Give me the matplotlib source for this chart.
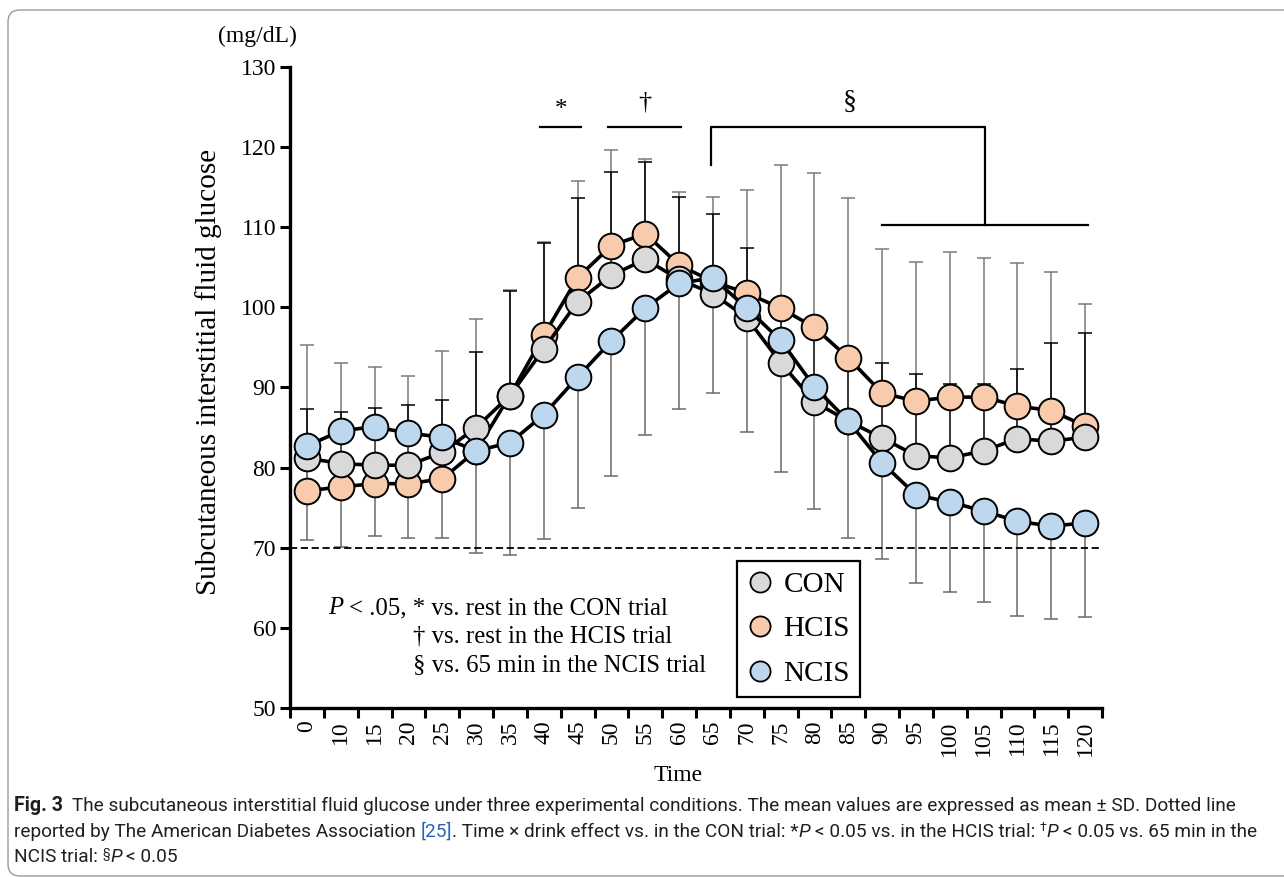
import matplotlib
matplotlib.use("Agg")
import matplotlib.pyplot as plt
from matplotlib.lines import Line2D
from matplotlib.patches import FancyBboxPatch
from matplotlib.transforms import IdentityTransform
import numpy as np

# data (mg/dL)
time_labels = [0, 10, 15, 20, 25, 30, 35, 40, 45, 50, 55, 60,
               65, 70, 75, 80, 85, 90, 95, 100, 105, 110, 115, 120]
con = [81.2, 80.5, 80.3, 80.3, 81.9, 85.0, 89.0, 94.8, 100.7, 104.0, 106.0, 103.5,
       101.7, 98.7, 93.1, 88.2, 85.8, 83.7, 81.5, 81.2, 82.1, 83.6, 83.3, 83.8]
hcis = [77.1, 77.6, 78.0, 78.0, 78.6, 82.1, 89.0, 96.5, 103.7, 107.7, 109.2, 105.3,
        103.2, 101.8, 99.9, 97.5, 93.7, 89.3, 88.3, 88.8, 88.8, 87.7, 87.1, 85.2]
ncis = [82.7, 84.6, 85.1, 84.3, 83.8, 82.1, 83.1, 86.6, 91.3, 95.8, 99.9, 103.0,
        103.7, 99.9, 95.9, 90.1, 85.8, 80.6, 76.6, 75.7, 74.6, 73.3, 72.7, 73.1]
# error bar ends (upper for CON/HCIS, lower for NCIS)
con_top = [87.3, 87.0, 87.5, 87.8, 88.5, 94.4, 102.0, 108.0, 113.6, 116.9, 118.2, 113.8,
           111.7, 107.4, 101.2, 96.3, 93.5, 93.1, 91.7, 90.4, 90.4, 92.3, 95.5, 96.8]
hcis_top = [95.3, 93.1, 92.5, 91.4, 94.6, 98.5, 102.2, 108.2, 115.8, 119.6, 118.5, 114.4,
            113.8, 114.6, 117.8, 116.8, 113.7, 107.3, 105.7, 106.9, 106.2, 105.6, 104.4, 100.4]
ncis_bottom = [71.0, 70.1, 71.5, 71.2, 71.2, 69.3, 69.1, 71.1, 75.0, 78.9, 84.1, 87.3,
               89.3, 84.4, 79.5, 74.8, 71.2, 68.6, 65.6, 64.5, 63.2, 61.5, 61.1, 61.3]
threshold = 70

names = ["CON", "HCIS", "NCIS"]
colors = ["#D9D9D9", "#F8CBAD", "#BDD7EE"]

plt.rcParams['font.family'] = ['Liberation Serif', 'DejaVu Serif']

W, H = 1284, 877
fig = plt.figure(figsize=(W / 100, H / 100), dpi=100)
ax = fig.add_axes([290 / W, 1 - 708 / H, (1102 - 290) / W, (708 - 67) / H])

x = np.arange(len(time_labels))
con_a, hcis_a, ncis_a = np.array(con), np.array(hcis), np.array(ncis)
zero = np.zeros(len(x))

# error bars behind the markers
ax.errorbar(x, hcis_a, yerr=[zero, np.array(hcis_top) - hcis_a], fmt='none',
            ecolor='#7a7a7a', elinewidth=1.1, capsize=5, capthick=1.1, zorder=1)
ax.errorbar(x, con_a, yerr=[zero, np.array(con_top) - con_a], fmt='none',
            ecolor='black', elinewidth=1.1, capsize=5, capthick=1.1, zorder=1)
ax.errorbar(x, ncis_a, yerr=[ncis_a - np.array(ncis_bottom), zero], fmt='none',
            ecolor='#6a6a6a', elinewidth=1.1, capsize=5, capthick=1.1, zorder=1)

ax.axhline(threshold, color='black', lw=1.3, ls=(0, (4, 2)), zorder=1)

series = [(hcis, colors[1], 2), (con, colors[0], 3), (ncis, colors[2], 4)]
for vals, c, z in series:
    ax.plot(x, vals, color='black', lw=2.6, marker='o', ms=18.5,
            mfc=c, mec='black', mew=1.4, zorder=z)

ax.set_xlim(-0.5, len(x) - 0.5)
ax.set_ylim(50, 130)
ax.set_yticks(range(50, 131, 10))
ax.set_xticks(np.arange(len(x) + 1) - 0.5)
ax.set_xticklabels([])
ax.set_xticks(x, minor=True)
ax.set_xticklabels([str(t) for t in time_labels], minor=True, rotation=90)
ax.tick_params(axis='x', which='minor', length=0, labelsize=17, pad=9)
ax.tick_params(axis='x', which='major', length=7, width=2.2, direction='out')
ax.tick_params(axis='y', length=7, width=2.2, labelsize=17, pad=3)
for s in ['top', 'right']:
    ax.spines[s].set_visible(False)
for s in ['left', 'bottom']:
    ax.spines[s].set_linewidth(2.4)

ax.set_ylabel("Subcutaneous interstitial fluid glucose", fontsize=21)
ax.yaxis.set_label_coords((222 - 290) / 812, (708 - 372) / 641)
ax.set_xlabel("Time", fontsize=17)
ax.xaxis.set_label_coords((678 - 290) / 812, (708 - 765) / 641)
ax.text(-0.04, 1.047, "(mg/dL)", transform=ax.transAxes, fontsize=17,
        ha='center', va='center')

# significance brackets
bk = dict(color='black', lw=1.6, clip_on=False)
ax.plot([6.9, 8.1], [122.5, 122.5], **bk)
ax.text(7.5, 124.6, "*", fontsize=18, ha='center', va='center')
ax.plot([8.9, 11.05], [122.5, 122.5], **bk)
ax.text(10.0, 125.6, "\u2020", fontsize=19, ha='center', va='center')
ax.plot([11.95, 11.95, 20.05, 20.05], [117.8, 122.5, 122.5, 110.3], **bk)
ax.plot([17.0, 23.1], [110.3, 110.3], **bk)
ax.text(16.05, 125.6, "\u00a7", fontsize=20, ha='center', va='center')

# legend
handles = [Line2D([], [], ls='none', marker='o', ms=14.5, mfc=c, mec='black', mew=1.3)
           for c in colors]
leg = ax.legend(handles, names, loc='lower left', bbox_to_anchor=(0.5505, 0.017),
                borderaxespad=0, fontsize=21, frameon=True, fancybox=False,
                edgecolor='black', framealpha=1, handlelength=0.9,
                handletextpad=0.35, labelspacing=0.62, borderpad=0.35)
leg.get_frame().set_linewidth(1.6)

renderer = fig.canvas.get_renderer()


def space_width(**kw):
    a = fig.text(0, 0, "a a", **kw)
    b = fig.text(0, 0, "aa", **kw)
    w = a.get_window_extent(renderer).width - b.get_window_extent(renderer).width
    a.remove()
    b.remove()
    return w


def draw_runs(px, py, runs, scale=1.0, dry=False):
    # px, py in image pixels (y from top), baseline
    x0 = px
    for s, kw in runs:
        kw = dict(kw)
        dy = kw.pop('dy', 0) * scale
        kw['fontsize'] = kw['fontsize'] * scale
        sw = space_width(**kw)
        lead = len(s) - len(s.lstrip(' '))
        trail = len(s) - len(s.rstrip(' '))
        px += lead * sw
        core = s.strip(' ')
        if core:
            t = fig.text(px / W, 1 - (py - dy) / H, core, va='baseline', **kw)
            px += t.get_window_extent(renderer).width
            if dry:
                t.remove()
        px += trail * sw
    return px - x0


# annotation text inside the plot
ann = dict(fontsize=17.8, family=['Liberation Serif', 'DejaVu Serif'])
draw_runs(328, 614, [("P", dict(style='italic', **ann)),
                     (" < .05, * vs. rest in the CON trial", ann)])
draw_runs(413, 643, [("\u2020 vs. rest in the HCIS trial", ann)])
draw_runs(413, 671, [("\u00a7 vs. 65 min in the NCIS trial", ann)])

# caption
cf = ['Roboto', 'DejaVu Sans']
cc = '#231f20'
nrm = dict(fontsize=14, family=cf, color=cc)
bld = dict(fontsize=14.5, family=cf, color=cc, weight='bold')
itl = dict(fontsize=14, family=cf, color=cc, style='italic')
sup = dict(fontsize=9, family=cf, color=cc, dy=6)
blue = dict(fontsize=14, family=cf, color='#2a62b8')

line1 = [("Fig. 3", bld),
         ("  The subcutaneous interstitial fluid glucose under three experimental "
          "conditions. The mean values are expressed as mean \u00b1 SD. Dotted line", nrm)]
line2 = [("reported by The American Diabetes Association ", nrm), ("[25]", blue),
         (". Time \u00d7 drink effect vs. in the CON trial: *", nrm),
         ("P", itl), (" < 0.05 vs. in the HCIS trial: ", nrm),
         ("\u2020", sup), ("P", itl), (" < 0.05 vs. 65 min in the", nrm)]
line3 = [("NCIS trial: ", nrm), ("\u00a7", sup), ("P", itl), (" < 0.05", nrm)]

w1 = draw_runs(14, 811, line1, dry=True)
w2 = draw_runs(14, 837, line2, dry=True)
k = min(1252 / w1, 1250 / w2)
draw_runs(14, 811, line1, scale=k)
draw_runs(14, 837, line2, scale=k)
draw_runs(14, 862, line3, scale=k)

# rounded frame around the figure panel
frame = FancyBboxPatch((8, 1), 1300, 866, boxstyle='round,pad=0,rounding_size=12',
                       transform=IdentityTransform(), fill=False, ec='#9a9a9a', lw=1.0)
fig.patches.append(frame)

fig.savefig("out.png", dpi=100)
